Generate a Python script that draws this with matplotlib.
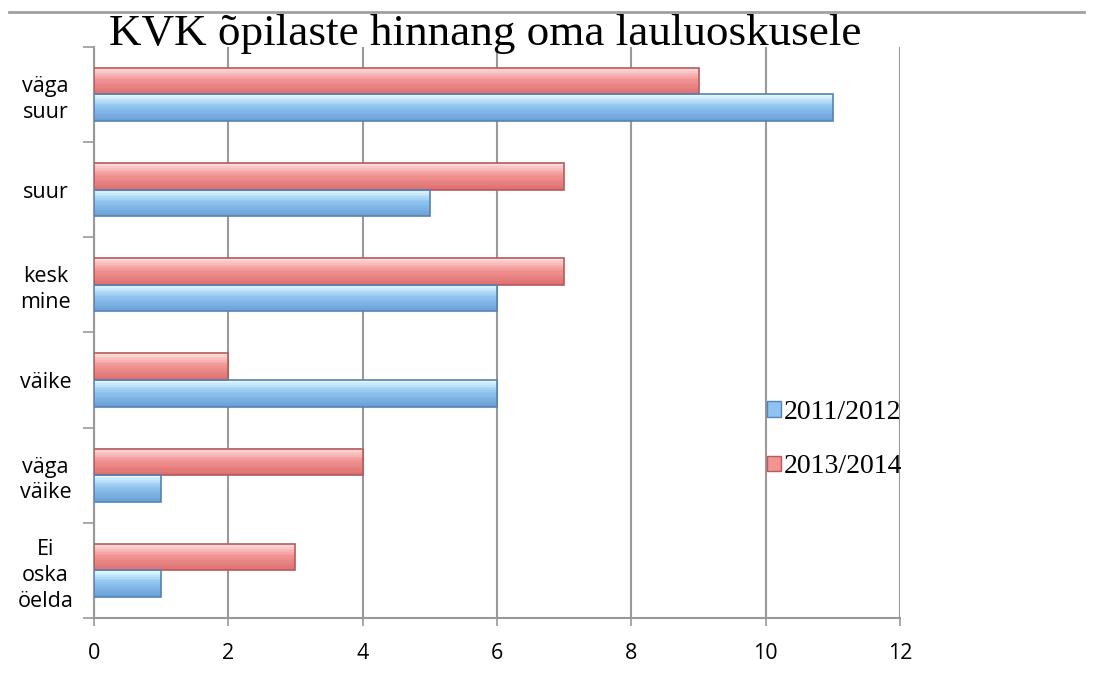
import numpy as np
import matplotlib
matplotlib.use("Agg")
import matplotlib.pyplot as plt
from matplotlib.lines import Line2D
from matplotlib.patches import Patch
from matplotlib.colors import to_rgb

# andmed
kategooriad = ["Ei\noska\nöelda", "väga\nväike", "väike", "kesk\nmine", "suur", "väga\nsuur"]
aasta_2011 = [1, 1, 6, 6, 5, 11]
aasta_2013 = [3, 4, 2, 7, 7, 9]
seeriad = ["2011/2012", "2013/2014"]
x_ticks = [0, 2, 4, 6, 8, 10, 12]

# värvid: ülemine, keskmine, alumine, serv
sinised = ["#e6fdff", "#8fc3f0", "#6a9fd6", "#5583b3"]
punased = ["#fde2e2", "#f39393", "#dc6f6f", "#b65a5a"]

fig = plt.figure(figsize=(11.08, 6.98), dpi=100)
ax = fig.add_axes([0.0848, 0.1146, 0.8123 - 0.0848, 0.933 - 0.1146])

y = np.arange(len(kategooriad))
h = 0.28
off = 0.14

# ribad gradiendiga (ülevalt hele, alt tume)
def ribad(keskus, vaartused, varvid):
    n = 16
    c1, c2, c3 = [np.array(to_rgb(c)) for c in varvid[:3]]
    for i in range(n):
        t = (i + 0.5) / n
        if t < 0.45:
            k = t / 0.45
            col = c1 * (1 - k) + c2 * k
        else:
            k = (t - 0.45) / 0.55
            col = c2 * (1 - k) + c3 * k
        yy = keskus + h / 2 - (i + 0.5) * h / n
        ax.barh(yy, vaartused, height=h / n * 1.05, color=col, lw=0, zorder=3)
    ax.barh(keskus, vaartused, height=h, fill=False, edgecolor=varvid[3], lw=1.2, zorder=4)

ribad(y + off, aasta_2013, punased)
ribad(y - off, aasta_2011, sinised)

ax.set_xlim(0, 12)
ax.set_ylim(-0.5, len(kategooriad) - 0.5)
ax.set_xticks(x_ticks)
ax.set_xticklabels([str(v) for v in x_ticks], fontsize=15.5, family="Open Sans")
ax.set_yticks(y)
ax.set_yticklabels(kategooriad, fontsize=15.5, family="Open Sans", linespacing=1.3, ha="center")
ax.tick_params(axis="y", length=0, pad=35)
ax.set_yticks(np.arange(-0.5, len(kategooriad), 1), minor=True)
ax.tick_params(axis="y", which="minor", length=8, color="#999999", width=1.2)
ax.tick_params(axis="x", length=6, color="#999999", width=1.2, pad=12)

ax.grid(axis="x", color="#999999", lw=1.5, zorder=0)
ax.set_axisbelow(True)
for s in ["top", "right"]:
    ax.spines[s].set_visible(False)
for s in ["left", "bottom"]:
    ax.spines[s].set_color("#999999")
    ax.spines[s].set_linewidth(1.5)

fig.add_artist(Line2D([0.008, 0.978], [0.983, 0.983], color="#a0a0a0", lw=2))
fig.text(0.438, 0.951, "KVK õpilaste hinnang oma lauluoskusele", ha="center", va="center",
         fontsize=32.5, family="Liberation Serif")

handles = [Patch(facecolor=sinised[1], edgecolor=sinised[3]), Patch(facecolor=punased[1], edgecolor=punased[3])]
fig.legend(handles, seeriad, loc="center left", bbox_to_anchor=(0.67, 0.37), frameon=False,
           prop={"family": "Liberation Serif", "size": 20}, handlelength=0.5, handleheight=0.5,
           handletextpad=0.1, labelspacing=1.05)

fig.savefig("out.png", dpi=100)
